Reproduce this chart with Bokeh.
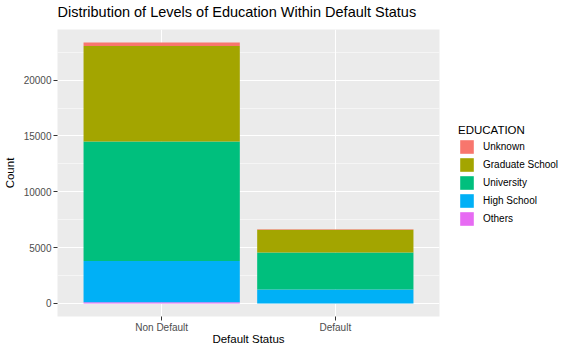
from bokeh.plotting import figure
from bokeh.models import (FactorRange, Range1d, FixedTicker, NumeralTickFormatter,
                          Legend, LegendItem, Title)
from bokeh.embed import file_html
from bokeh.resources import INLINE

categories = ["Non Default", "Default"]
education_levels = ["Others", "High School", "University", "Graduate School", "Unknown"]
others = [116, 7]
high_school = [3680, 1237]
university = [10700, 3330]
graduate_school = [8549, 2036]
unknown = [319, 26]
colors = ["#E76BF3", "#00B0F6", "#00BF7D", "#A3A500", "#F8766D"]

y_ticks = [0, 5000, 10000, 15000, 20000]
y_minor = [2500, 7500, 12500, 17500, 22500]

data = {"status": categories,
        "Others": others,
        "High School": high_school,
        "University": university,
        "Graduate School": graduate_school,
        "Unknown": unknown}

totals = [sum(v) for v in zip(others, high_school, university, graduate_school, unknown)]
ymax = max(totals)
pad = ymax * 0.05

FONT = "Liberation Sans"

p = figure(frame_width=382, frame_height=287, output_backend="svg", toolbar_location=None,
           x_range=FactorRange(factors=categories, range_padding=0.1,
                               range_padding_units="absolute"),
           y_range=Range1d(-pad, ymax + pad),
           title="Distribution of Levels of Education Within Default Status",
           min_border_left=50, min_border_right=121, min_border_top=21,
           min_border_bottom=38)

renderers = p.vbar_stack(education_levels, x="status", width=0.9, color=colors,
                         line_color=None, source=data)

p.background_fill_color = "#EBEBEB"
p.border_fill_color = "white"
p.outline_line_color = None

p.title.text_font = FONT
p.title.text_font_size = "14.5px"
p.title.text_font_style = "normal"
p.title.text_color = "black"
p.title.align = "left"
p.title.standoff = 2
# blank spacer panel above the title
p.add_layout(Title(text=" ", text_font_size="7px", standoff=0), "above")

p.yaxis.ticker = FixedTicker(ticks=y_ticks, minor_ticks=y_minor)
p.yaxis.formatter = NumeralTickFormatter(format="0")
for ax in (p.xaxis[0], p.yaxis[0]):
    ax.axis_line_color = None
    ax.major_tick_line_color = "#333333"
    ax.major_tick_in = 0
    ax.major_tick_out = 4
    ax.minor_tick_line_color = None
    ax.major_label_text_font = FONT
    ax.major_label_text_font_size = "10px"
    ax.major_label_text_color = "#4D4D4D"
    ax.axis_label_text_font = FONT
    ax.axis_label_text_font_size = "11.5px"
    ax.axis_label_text_font_style = "normal"
    ax.axis_label_text_color = "black"

p.xaxis.axis_label = "Default Status"
p.yaxis.axis_label = "Count"
p.yaxis.major_label_standoff = 2
p.yaxis.axis_label_standoff = 5
p.xaxis.major_label_standoff = 1
p.xaxis.axis_label_standoff = -3

p.xgrid.grid_line_color = "white"
p.xgrid.grid_line_width = 1.1
p.ygrid.grid_line_color = "white"
p.ygrid.grid_line_width = 1.1
p.ygrid.minor_grid_line_color = "white"
p.ygrid.minor_grid_line_width = 0.5

items = [LegendItem(label=lvl, renderers=[r]) for lvl, r in zip(education_levels, renderers)]
items.reverse()
legend = Legend(items=items, title="EDUCATION", location=(19, 89),
                title_text_font=FONT, title_text_font_size="11.5px",
                title_text_font_style="normal", title_text_color="black",
                title_standoff=2,
                label_text_font=FONT, label_text_font_size="10px",
                label_text_color="black", label_standoff=8,
                glyph_width=17, glyph_height=17, label_height=17,
                spacing=1, padding=0, margin=8,
                border_line_color=None, background_fill_color=None)
p.add_layout(legend, "right")

open("out.html", "w").write(file_html(p, INLINE))
